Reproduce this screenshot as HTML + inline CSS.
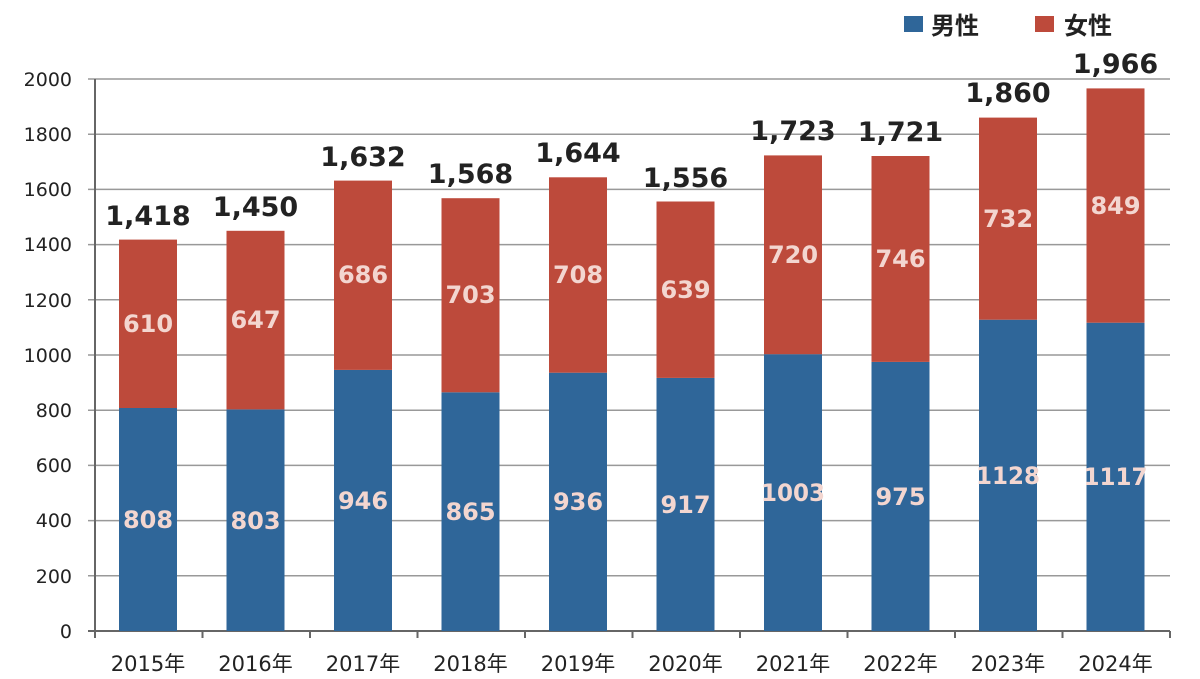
<!DOCTYPE html>
<html><head><meta charset="utf-8"><style>
html,body{margin:0;padding:0;background:#fff;width:1200px;height:679px;overflow:hidden}
svg text{font-family:"DejaVu Sans","Noto Sans CJK JP",sans-serif}
</style></head><body>
<svg width="1200" height="679" xmlns="http://www.w3.org/2000/svg">
<g stroke="#999" stroke-width="1.5">
<line x1="88" x2="1170" y1="79" y2="79"/><line x1="88" x2="1170" y1="134.2" y2="134.2"/>
<line x1="88" x2="1170" y1="189.4" y2="189.4"/><line x1="88" x2="1170" y1="244.6" y2="244.6"/>
<line x1="88" x2="1170" y1="299.8" y2="299.8"/><line x1="88" x2="1170" y1="355" y2="355"/>
<line x1="88" x2="1170" y1="410.2" y2="410.2"/><line x1="88" x2="1170" y1="465.4" y2="465.4"/>
<line x1="88" x2="1170" y1="520.6" y2="520.6"/><line x1="88" x2="1170" y1="575.8" y2="575.8"/>
</g>
<g stroke="#666" stroke-width="2">
<line x1="95" x2="95" y1="79" y2="638"/><line x1="88" x2="1170" y1="631" y2="631"/>
<line x1="202.5" x2="202.5" y1="631" y2="638"/><line x1="310" x2="310" y1="631" y2="638"/>
<line x1="417.5" x2="417.5" y1="631" y2="638"/><line x1="525" x2="525" y1="631" y2="638"/>
<line x1="632.5" x2="632.5" y1="631" y2="638"/><line x1="740" x2="740" y1="631" y2="638"/>
<line x1="847.5" x2="847.5" y1="631" y2="638"/><line x1="955" x2="955" y1="631" y2="638"/>
<line x1="1062.5" x2="1062.5" y1="631" y2="638"/><line x1="1170" x2="1170" y1="631" y2="638"/>
</g>
<g font-size="19" fill="#222" text-anchor="end">
<text x="72" y="86">2000</text><text x="72" y="141">1800</text><text x="72" y="196">1600</text>
<text x="72" y="251">1400</text><text x="72" y="307">1200</text><text x="72" y="362">1000</text>
<text x="72" y="417">800</text><text x="72" y="472">600</text><text x="72" y="527">400</text>
<text x="72" y="583">200</text><text x="72" y="638">0</text>
</g>
<g fill="#2f6699">
<rect x="119" y="408" width="58" height="223"/><rect x="226.5" y="409.4" width="58" height="221.6"/>
<rect x="334" y="369.9" width="58" height="261.1"/><rect x="441.5" y="392.3" width="58" height="238.7"/>
<rect x="549" y="372.7" width="58" height="258.3"/><rect x="656.5" y="377.9" width="58" height="253.1"/>
<rect x="764" y="354.2" width="58" height="276.8"/><rect x="871.5" y="361.9" width="58" height="269.1"/>
<rect x="979" y="319.7" width="58" height="311.3"/><rect x="1086.5" y="322.7" width="58" height="308.3"/>
</g>
<g fill="#bd4a3b">
<rect x="119" y="239.6" width="58" height="168.4"/><rect x="226.5" y="230.8" width="58" height="178.6"/>
<rect x="334" y="180.6" width="58" height="189.3"/><rect x="441.5" y="198.2" width="58" height="194.1"/>
<rect x="549" y="177.3" width="58" height="195.4"/><rect x="656.5" y="201.5" width="58" height="176.4"/>
<rect x="764" y="155.4" width="58" height="198.8"/><rect x="871.5" y="156" width="58" height="205.9"/>
<rect x="979" y="117.6" width="58" height="202.1"/><rect x="1086.5" y="88.4" width="58" height="234.3"/>
</g>
<g font-size="24" font-weight="bold" fill="#f3d6d0" text-anchor="middle">
<text x="148" y="528">808</text><text x="255.5" y="529">803</text><text x="363" y="509">946</text>
<text x="470.5" y="520">865</text><text x="578" y="510">936</text><text x="685.5" y="513">917</text>
<text x="793" y="501" textLength="64" lengthAdjust="spacingAndGlyphs">1003</text><text x="900.5" y="505">975</text><text x="1008" y="484" textLength="64" lengthAdjust="spacingAndGlyphs">1128</text>
<text x="1115.5" y="485" textLength="64" lengthAdjust="spacingAndGlyphs">1117</text>
<text x="148" y="332">610</text><text x="255.5" y="328">647</text><text x="363" y="283">686</text>
<text x="470.5" y="303">703</text><text x="578" y="283">708</text><text x="685.5" y="298">639</text>
<text x="793" y="263">720</text><text x="900.5" y="267">746</text><text x="1008" y="227">732</text>
<text x="1115.5" y="214">849</text>
</g>
<g font-size="27" font-weight="bold" fill="#222" text-anchor="middle">
<text x="148" y="225">1,418</text><text x="255.5" y="216">1,450</text><text x="363" y="166">1,632</text>
<text x="470.5" y="183">1,568</text><text x="578" y="162">1,644</text><text x="685.5" y="187">1,556</text>
<text x="793" y="140">1,723</text><text x="900.5" y="141">1,721</text><text x="1008" y="102">1,860</text>
<text x="1115.5" y="73">1,966</text>
</g>
<g font-size="21" fill="#222" text-anchor="middle">
<text x="148" y="671">2015年</text><text x="255.5" y="671">2016年</text><text x="363" y="671">2017年</text>
<text x="470.5" y="671">2018年</text><text x="578" y="671">2019年</text><text x="685.5" y="671">2020年</text>
<text x="793" y="671">2021年</text><text x="900.5" y="671">2022年</text><text x="1008" y="671">2023年</text>
<text x="1115.5" y="671">2024年</text>
</g>
<rect x="904" y="16" width="19" height="16" fill="#2f6699"/>
<text x="931" y="34" font-size="24" font-weight="bold" fill="#222">男性</text>
<rect x="1035" y="16" width="19" height="16" fill="#bd4a3b"/>
<text x="1064" y="34" font-size="24" font-weight="bold" fill="#222">女性</text>
</svg>
</body></html>
